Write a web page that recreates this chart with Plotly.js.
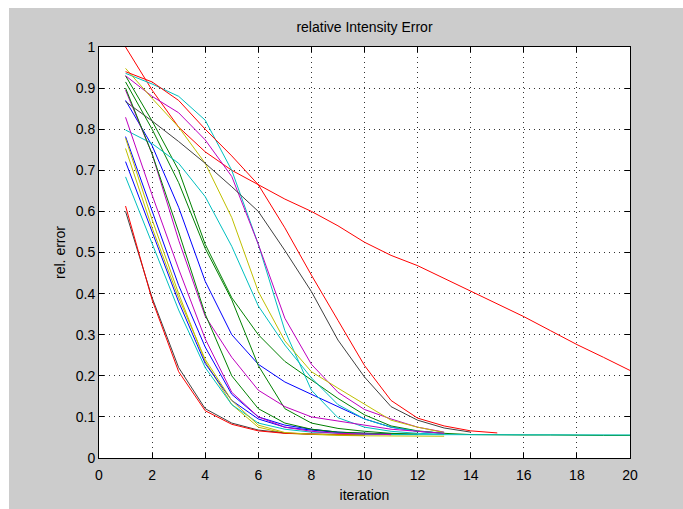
<!DOCTYPE html>
<html>
<head>
<meta charset="utf-8">
<script src="https://cdn.plot.ly/plotly-3.0.1.min.js"></script>
<style>
  html, body { margin: 0; padding: 0; background: #ffffff; }
  #chart { position: absolute; left: 9px; top: 8px; width: 674px; height: 501px; }
</style>
</head>
<body>
<div id="chart"></div>
<script>
// relative error per iteration (iteration = index + 1)
const blueA    = [0.87, 0.76, 0.61, 0.43, 0.30, 0.228, 0.185, 0.155, 0.125, 0.095, 0.075, 0.065, 0.06];
const greenA   = [0.93, 0.82, 0.70, 0.52, 0.39, 0.30, 0.235, 0.19, 0.145, 0.105, 0.078, 0.066, 0.06, 0.057, 0.056, 0.056, 0.056, 0.055, 0.055, 0.055];
const redA     = [1.0, 0.895, 0.805, 0.745, 0.70, 0.665, 0.63, 0.60, 0.565, 0.525, 0.493, 0.468, 0.437, 0.405, 0.375, 0.344, 0.31, 0.276, 0.245, 0.213];
const cyanA    = [0.936, 0.91, 0.88, 0.822, 0.70, 0.52, 0.31, 0.165, 0.098, 0.075, 0.065, 0.06, 0.058];
const magentaA = [0.93, 0.88, 0.84, 0.774, 0.685, 0.52, 0.34, 0.228, 0.16, 0.118, 0.095, 0.075, 0.063];
const yellowA  = [0.948, 0.875, 0.805, 0.717, 0.585, 0.405, 0.285, 0.21, 0.17, 0.13, 0.092, 0.075, 0.062];
const grayA    = [0.867, 0.82, 0.77, 0.717, 0.66, 0.60, 0.505, 0.405, 0.287, 0.197, 0.125, 0.092, 0.073, 0.063];

const blueB    = [0.782, 0.60, 0.42, 0.27, 0.155, 0.10, 0.08, 0.07, 0.063, 0.06, 0.058, 0.057];
const greenB   = [0.915, 0.80, 0.67, 0.51, 0.385, 0.225, 0.12, 0.085, 0.072, 0.065, 0.06, 0.058];
const redB     = [0.94, 0.915, 0.87, 0.80, 0.735, 0.665, 0.56, 0.445, 0.335, 0.225, 0.14, 0.097, 0.078, 0.066, 0.061];
const cyanB    = [0.798, 0.765, 0.717, 0.636, 0.515, 0.37, 0.275, 0.195, 0.13, 0.095, 0.075, 0.065, 0.06];
const magentaB = [0.895, 0.74, 0.53, 0.345, 0.245, 0.165, 0.125, 0.10, 0.09, 0.08, 0.07, 0.065, 0.06];
const yellowB  = [0.778, 0.58, 0.40, 0.235, 0.13, 0.075, 0.06, 0.057, 0.055, 0.054, 0.054, 0.053, 0.053];
const grayB    = [0.60, 0.39, 0.22, 0.12, 0.085, 0.068, 0.061, 0.058, 0.057, 0.056];

const blueC    = [0.721, 0.55, 0.38, 0.23, 0.14, 0.095, 0.075, 0.068, 0.062, 0.058, 0.057];
const greenC   = [0.90, 0.74, 0.55, 0.35, 0.20, 0.12, 0.085, 0.07, 0.063, 0.06, 0.058, 0.057];
const redC     = [0.613, 0.385, 0.21, 0.115, 0.082, 0.066, 0.06, 0.058, 0.057, 0.056];
const cyanC    = [0.684, 0.52, 0.36, 0.22, 0.13, 0.085, 0.07, 0.063, 0.06, 0.058, 0.057, 0.057, 0.056, 0.056, 0.056, 0.056, 0.056, 0.056, 0.056, 0.056];
const magentaC = [0.829, 0.64, 0.46, 0.29, 0.16, 0.10, 0.075, 0.065, 0.06, 0.058, 0.057];
const yellowC  = [0.753, 0.56, 0.39, 0.24, 0.14, 0.08, 0.062, 0.058, 0.056, 0.055];

const xTicks = [0, 2, 4, 6, 8, 10, 12, 14, 16, 18, 20];
const yTicks = [0, 0.1, 0.2, 0.3, 0.4, 0.5, 0.6, 0.7, 0.8, 0.9, 1];
const yTickText = ['0', '0.1', '0.2', '0.3', '0.4', '0.5', '0.6', '0.7', '0.8', '0.9', '1'];

const C = { b: '#0000FF', g: '#008000', r: '#FF0000', c: '#00BFBF', m: '#BF00BF', y: '#BFBF00', k: '#404040' };

const series = [
  [blueA, C.b], [greenA, C.g], [redA, C.r], [cyanA, C.c], [magentaA, C.m], [yellowA, C.y], [grayA, C.k],
  [blueB, C.b], [greenB, C.g], [redB, C.r], [cyanB, C.c], [magentaB, C.m], [yellowB, C.y], [grayB, C.k],
  [blueC, C.b], [greenC, C.g], [redC, C.r], [cyanC, C.c], [magentaC, C.m], [yellowC, C.y]
];

const traces = series.map(([vals, col]) => ({
  type: 'scatter', mode: 'lines',
  x: vals.map((_, i) => i + 1), y: vals,
  line: { color: col, width: 1 },
  hoverinfo: 'none'
}));

const font = { family: 'Liberation Sans, Arial, Helvetica, sans-serif', size: 14, color: '#000' };

const axisCommon = {
  showline: true, linecolor: '#000', linewidth: 1, mirror: 'ticks',
  ticks: 'inside', ticklen: 5, tickcolor: '#000', tickwidth: 1,
  showgrid: true, gridcolor: '#333', gridwidth: 1, griddash: '1px,4px',
  zeroline: false, tickfont: font
};

const layout = {
  width: 674, height: 501,
  paper_bgcolor: '#CCCCCC', plot_bgcolor: '#FFFFFF',
  margin: { l: 90, r: 53, t: 39, b: 51 },
  showlegend: false,
  font: font,
  title: { text: 'relative Intensity Error', font: { ...font, size: 14 }, x: 0.5, xref: 'paper', y: 1 - 19 / 501, yref: 'container', yanchor: 'middle' },
  xaxis: { ...axisCommon, range: [0, 20], tickvals: xTicks, ticklabelstandoff: 4, title: { text: 'iteration', font: font, standoff: 8 } },
  yaxis: { ...axisCommon, range: [0, 1], tickvals: yTicks, ticktext: yTickText, title: { text: 'rel. error', font: font, standoff: 6 } }
};

Plotly.newPlot('chart', traces, layout, { displayModeBar: false, staticPlot: true });
</script>
</body>
</html>
